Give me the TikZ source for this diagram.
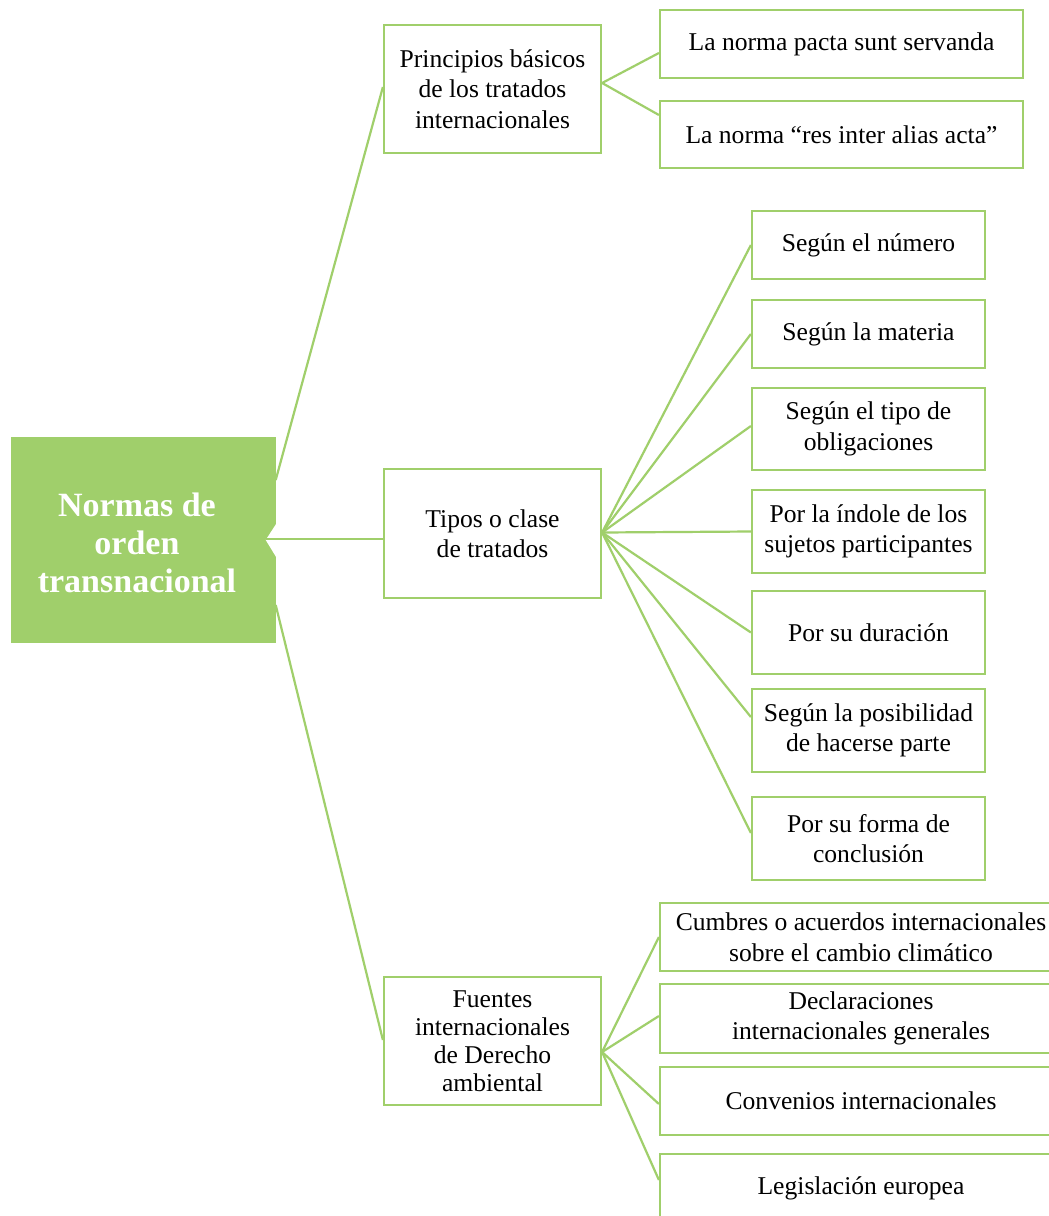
\documentclass[tikz,border=0pt]{standalone}
\usepackage{fontspec}
\setmainfont{Liberation Serif}
\usetikzlibrary{calc}
\definecolor{gr}{RGB}{160,207,107}
\begin{document}
\begin{tikzpicture}[x=1pt,y=-1pt,
  box/.style={draw=gr,line width=2.2pt,inner sep=0pt,align=center,font=\fontsize{25.6}{30.5}\selectfont,text=black},
  conn/.style={draw=gr,line width=2.2pt},
  rootbox/.style={fill=gr,inner sep=0pt,minimum width=265,minimum height=206},
]
\useasboundingbox[fill=white] (0,0) rectangle (1049,1216);
% root
\node[rootbox] (root) at (143,540) {};
\fill[white] ($(root.east)+(1,-17)$) -- ($(root.east)+(-10,0)$) -- ($(root.east)+(1,18)$) -- cycle;
\node[text=white,align=center,font=\fontsize{34}{38}\selectfont\bfseries] (roottxt) at (137,543) {Normas de\\orden\\transnacional};
% level 1
\node[box,minimum width=217,minimum height=128] (prin) at (492.5,89) {Principios básicos\\de los tratados\\internacionales};
\node[box,minimum width=217,minimum height=129] (tipos) at (492.5,533.5) {Tipos o clase\\de tratados};
\node[box,minimum width=217,minimum height=128,font=\fontsize{25.6}{28}\selectfont] (fuen) at (492.5,1041) {Fuentes\\internacionales\\de Derecho\\ambiental};
% level 2 principios
\node[box,minimum width=363,minimum height=68] (pacta) at (841.5,44) {La norma pacta sunt servanda};
\node[box,minimum width=363,minimum height=67] (res) at (841.5,134.5) {La norma “res inter alias acta”};
% level 2 tipos
\node[box,minimum width=233,minimum height=68] (num) at (868.5,245) {Según el número};
\node[box,minimum width=233,minimum height=68] (mat) at (868.5,334) {Según la materia};
\node[box,minimum width=233,minimum height=82] (obl) at (868.5,429) {Según el tipo de\\obligaciones};
\node[box,minimum width=233,minimum height=83] (ind) at (868.5,531.5) {Por la índole de los\\sujetos participantes};
\node[box,minimum width=233,minimum height=83] (dur) at (868.5,632.5) {Por su duración};
\node[box,minimum width=233,minimum height=83] (pos) at (868.5,730.5) {Según la posibilidad\\de hacerse parte};
\node[box,minimum width=233,minimum height=83] (for) at (868.5,838.5) {Por su forma de\\conclusión};
% level 2 fuentes
\node[box,minimum width=402,minimum height=68] (cum) at (861,937) {Cumbres o acuerdos internacionales\\sobre el cambio climático};
\node[box,minimum width=402,minimum height=69] (dec) at (861,1018.5) {Declaraciones\\internacionales generales};
\node[box,minimum width=402,minimum height=68] (conv) at (861,1101) {Convenios internacionales};
\node[box,minimum width=402,minimum height=68] (leg) at (861,1188) {Legislación europea};
% connectors root
\coordinate (rtip) at ($(root.east)+(-10,-1)$);
\draw[conn] ($(root.east)+(0,-60)$) -- ($(prin.west)+(0,-2)$);
\draw[conn] (rtip) -- (rtip -| tipos.west);
\draw[conn] ($(root.east)+(0,65)$) -- ($(fuen.west)+(0,-1)$);
% connectors principios
\coordinate (pj) at ($(prin.east)+(0,-6)$);
\draw[conn] (pj) -- ($(pacta.west)+(0,9)$);
\draw[conn] (pj) -- ($(res.west)+(0,-19.5)$);
% connectors tipos
\coordinate (tj) at ($(tipos.east)+(0,-1)$);
\draw[conn] (tj) -- (num.west);
\draw[conn] (tj) -- (mat.west);
\draw[conn] (tj) -- ($(obl.west)+(0,-3)$);
\draw[conn] (tj) -- (ind.west);
\draw[conn] (tj) -- (dur.west);
\draw[conn] (tj) -- ($(pos.west)+(0,-13.5)$);
\draw[conn] (tj) -- ($(for.west)+(0,-5.5)$);
% connectors fuentes
\coordinate (fj) at ($(fuen.east)+(0,11)$);
\draw[conn] (fj) -- (cum.west);
\draw[conn] (fj) -- ($(dec.west)+(0,-2.5)$);
\draw[conn] (fj) -- ($(conv.west)+(0,3)$);
\draw[conn] (fj) -- ($(leg.west)+(0,-8)$);
\end{tikzpicture}
\end{document}
